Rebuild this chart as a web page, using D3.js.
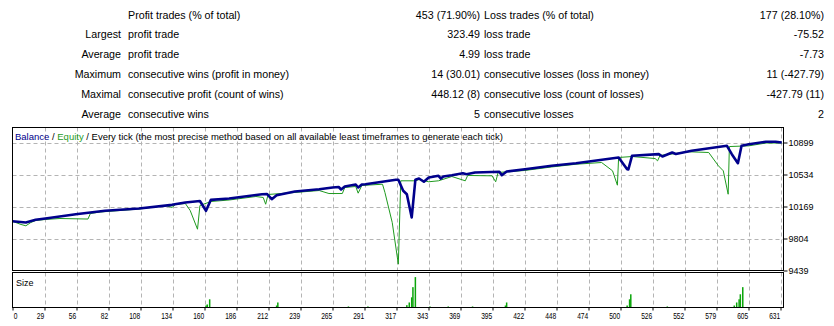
<!DOCTYPE html>
<html>
<head>
<meta charset="utf-8">
<script src="https://cdn.jsdelivr.net/npm/d3@7"></script>
<style>
  body { margin: 0; background: #fff; }
  svg { display: block; font-family: "Liberation Sans", Arial, sans-serif; }
</style>
</head>
<body>
<div id="chart"></div>
<script>
// report rows (top table)
var rowPrefix = ["", "Largest", "Average", "Maximum", "Maximal", "Average"];
var profitLabels = ["Profit trades (% of total)", "profit trade", "profit trade",
  "consecutive wins (profit in money)", "consecutive profit (count of wins)", "consecutive wins"];
var profitValues = ["453 (71.90%)", "323.49", "4.99", "14 (30.01)", "448.12 (8)", "5"];
var lossLabels = ["Loss trades (% of total)", "loss trade", "loss trade",
  "consecutive losses (loss in money)", "consecutive loss (count of losses)", "consecutive losses"];
var lossValues = ["177 (28.10%)", "-75.52", "-7.73", "11 (-427.79)", "-427.79 (11)", "2"];

// axes
var xTickLabels = [0, 29, 56, 82, 108, 134, 160, 186, 212, 239, 265, 291, 317, 343, 369, 395,
  422, 448, 474, 500, 526, 552, 579, 605, 631];
var yTicks = [9439, 9804, 10169, 10534, 10899];

// [trade number, balance]
var balance = [[0,10000],[11,9986],[19,10017],[27,10032],[52,10081],[76,10120],[104,10146],
  [131,10188],[142,10215],[152,10229],[154,10232],[159,10120],[163,10245],[178,10260],
  [205,10309],[209,10312],[213,10252],[217,10298],[232,10340],[252,10366],[263,10386],
  [268,10391],[270,10363],[273,10397],[282,10420],[284,10386],[287,10420],[290,10423],
  [315,10474],[317,10474],[321,10348],[324,10309],[328,10044],[330,10329],[331,10474],
  [334,10488],[338,10451],[342,10500],[350,10519],[352,10488],[354,10511],[361,10526],
  [370,10549],[373,10537],[380,10557],[400,10565],[402,10526],[406,10568],[421,10594],
  [443,10633],[463,10663],[498,10728],[505,10594],[506,10591],[509,10747],[531,10766],
  [534,10739],[542,10785],[545,10768],[558,10804],[587,10861],[591,10766],[596,10663],
  [599,10861],[605,10880],[619,10907],[627,10907],[632,10899]];

// [trade number, equity]
var equity = [[0,10000],[7,9964],[11,9949],[15,9986],[19,10009],[27,10021],[39,10032],
  [62,10026],[64,10089],[72,10106],[104,10140],[126,10180],[131,10158],[134,10192],
  [142,10203],[146,10123],[152,9910],[154,10180],[163,10226],[178,10243],[200,10283],
  [206,10272],[208,10195],[210,10306],[232,10329],[252,10351],[260,10317],[271,10317],
  [273,10386],[282,10397],[284,10321],[287,10409],[304,10423],[306,10329],[312,9986],
  [317,9511],[319,10462],[331,10462],[334,10477],[342,10451],[350,10462],[361,10511],
  [372,10462],[374,10523],[394,10519],[397,10451],[399,10557],[421,10580],[443,10620],
  [463,10651],[484,10671],[493,10576],[497,10412],[498,10728],[509,10739],[528,10716],
  [530,10690],[532,10751],[556,10793],[572,10785],[580,10633],[584,10576],[588,10309],
  [589,10853],[605,10861],[619,10893],[632,10893]];

// [trade number, lots]
var sizes = [[159,0.17],[160,0.26],[162,0.70],[217,0.17],[218,0.43],[276,0.09],[292,0.09],
  [324,0.20],[326,0.43],[328,0.87],[329,1.74],[331,2.60],[343,0.09],[358,0.09],[378,0.09],
  [405,0.17],[406,0.43],[505,0.17],[507,0.70],[508,1.13],[538,0.09],
  [593,0.17],[595,0.43],[597,0.70],[598,1.13],[600,1.74]];

var width = 834, height = 326;
var left = 12.5, right = 783.5;
var mainTop = 127.5, mainBottom = 270.5, sizeTop = 272.5, sizeBottom = 307.5;

var svg = d3.select("#chart").append("svg")
    .attr("width", width)
    .attr("height", height);

// Scales
var xScale = d3.scaleLinear().domain([0, 631]).range([left, 780.5]);
var xTick = d3.scalePoint().domain(xTickLabels).range([left, 780.5]);
var yScale = d3.scaleLinear().domain([9439, 10899]).range([mainBottom, 142.5]);
var ySize = d3.scaleLinear().domain([0, 2.95]).range([sizeBottom, sizeTop + 0.5]);

// Grid as one dashed path (horizontal + vertical in both panels)
var gridPath = d3.path();
yTicks.slice(1).forEach(function(v) {
  var yy = Math.round(yScale(v)) + 0.5;
  gridPath.moveTo(left, yy);
  gridPath.lineTo(right, yy);
});
xTickLabels.slice(1).forEach(function(t) {
  var xx = Math.round(xTick(t)) + 0.5;
  gridPath.moveTo(xx, mainTop);
  gridPath.lineTo(xx, mainBottom);
  gridPath.moveTo(xx, sizeTop);
  gridPath.lineTo(xx, sizeBottom);
});
svg.append("path")
  .attr("class", "grid")
  .attr("d", gridPath.toString())
  .attr("fill", "none")
  .attr("stroke", "#b4b4b4")
  .attr("stroke-width", 1)
  .attr("stroke-dasharray", "4,3");

// Table
var table = svg.append("g").attr("font-size", "10.7px").attr("fill", "#000");
var cols = [
  {data: rowPrefix, x: 121, anchor: "end"},
  {data: profitLabels, x: 128, anchor: "start"},
  {data: profitValues, x: 480, anchor: "end"},
  {data: lossLabels, x: 484, anchor: "start"},
  {data: lossValues, x: 824, anchor: "end"}
];
cols.forEach(function(c) {
  table.append("g").selectAll("text")
    .data(c.data)
    .enter()
    .append("text")
    .attr("x", c.x)
    .attr("y", function(d, i) { return 18.5 + i * 19.9 })
    .attr("text-anchor", c.anchor)
    .text(function(d) { return d })
});

svg.append("clipPath").attr("id", "clipMain")
  .append("rect").attr("x", left).attr("y", mainTop).attr("width", right - left).attr("height", mainBottom - mainTop);

// Lines
var line = d3.line()
    .x(function(d) { return xScale(d[0]) })
    .y(function(d) { return yScale(d[1]) });

var plot = svg.append("g").attr("clip-path", "url(#clipMain)");

plot.append("path")
  .datum(equity)
  .attr("d", line)
  .attr("fill", "none")
  .attr("stroke", "#1f9a1f")
  .attr("stroke-width", 1);

plot.append("path")
  .datum(balance)
  .attr("d", line)
  .attr("fill", "none")
  .attr("stroke", "#00008c")
  .attr("stroke-width", 2.6)
  .attr("stroke-linejoin", "round");

// Size bars
svg.append("g").selectAll("rect")
  .data(sizes)
  .enter().append("rect")
  .attr("x", function(d) { return xScale(d[0]) - 0.75 })
  .attr("width", 1.5)
  .attr("y", function(d) { return ySize(d[1]) })
  .attr("height", function(d) { return ySize(0) - ySize(d[1]) })
  .attr("fill", "#0aa50a");

// Frames
svg.append("rect")
  .attr("x", left).attr("y", mainTop).attr("width", right - left).attr("height", mainBottom - mainTop)
  .attr("fill", "none").attr("stroke", "#000");
svg.append("rect")
  .attr("x", left).attr("y", sizeTop).attr("width", right - left).attr("height", sizeBottom - sizeTop)
  .attr("fill", "none").attr("stroke", "#000");

// Header
var header = svg.append("text")
    .attr("x", 15).attr("y", 140)
    .attr("font-size", "9.5px")
    .attr("fill", "#000");
header.append("tspan").attr("fill", "#00008c").text("Balance");
header.append("tspan").text(" / ");
header.append("tspan").attr("fill", "#1f9a1f").text("Equity");
header.append("tspan").text(" / Every tick (the most precise method based on all available least timeframes to generate each tick)");

svg.append("text")
  .attr("x", 16).attr("y", 285.5)
  .attr("font-size", "9px")
  .text("Size");

// Y axis
var yAxis = svg.append("g")
    .attr("transform", "translate(" + right + ",0)")
    .call(d3.axisRight(yScale).tickValues(yTicks).tickSize(4).tickPadding(1).tickFormat(d3.format("d")));
yAxis.select(".domain").remove();
yAxis.selectAll("text").attr("font-size", "9px").attr("font-family", "Liberation Sans, Arial, sans-serif").attr("fill", "#000");

// X axis
var xAxis = svg.append("g")
    .attr("transform", "translate(0," + sizeBottom + ")")
    .call(d3.axisBottom(xTick).tickSize(3).tickPadding(2));
xAxis.select(".domain").remove();
xAxis.selectAll("text")
  .attr("font-size", "9px")
  .attr("font-family", "Liberation Sans, Arial, sans-serif")
  .attr("fill", "#000")
  .attr("text-anchor", function(d, i) { return i == 0 ? "start" : "end" })
  .attr("x", function(d, i) { return i == 0 ? 1 : -1 })
  .attr("transform", "scale(0.74,1)");
</script>
</body>
</html>
